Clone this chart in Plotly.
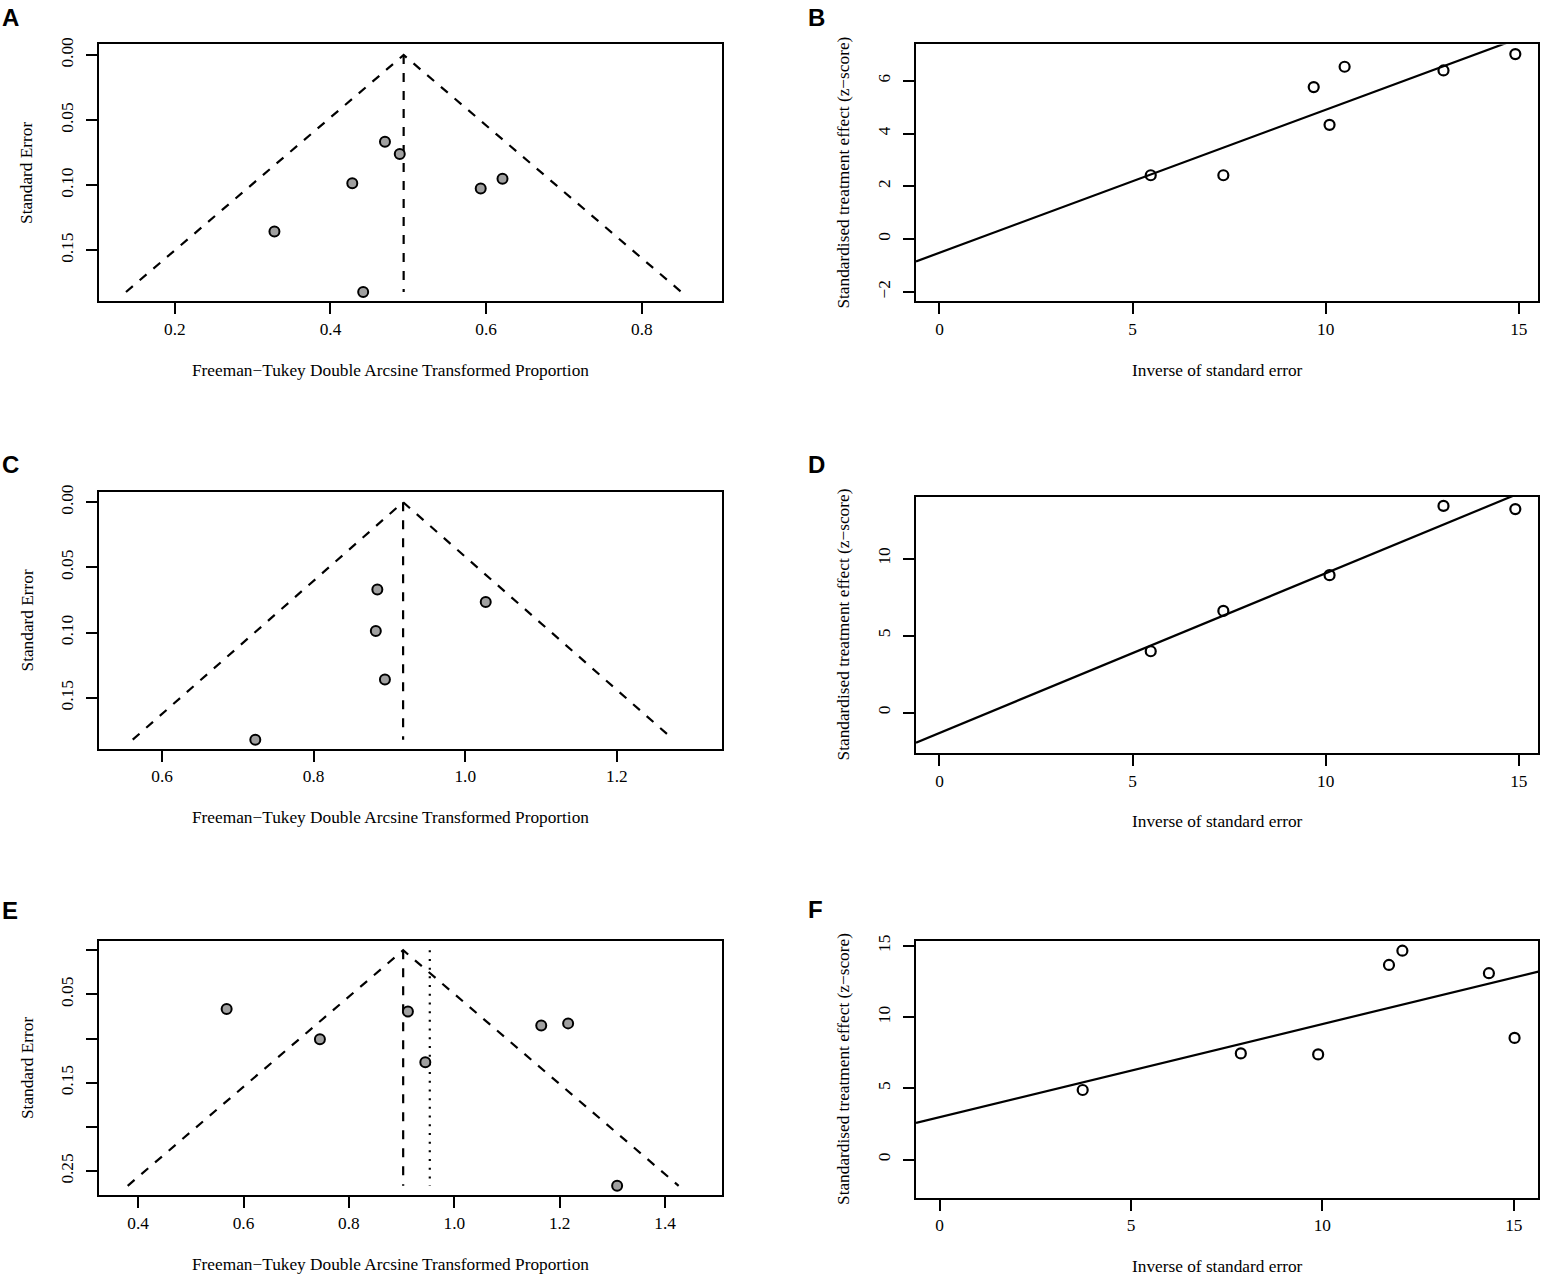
import numpy as np
import plotly.graph_objects as go
from plotly.subplots import make_subplots

# ---- data ----
# A: funnel, Freeman-Tukey transformed proportion vs standard error
a_te = [0.470, 0.489, 0.428, 0.621, 0.593, 0.328, 0.442]
a_se = [0.0667, 0.0761, 0.0985, 0.0950, 0.1026, 0.1356, 0.1820]
a_pooled = 0.494

# B: Egger radial, precision vs z
b_prec = [5.47, 7.35, 9.69, 10.10, 10.49, 13.05, 14.91]
b_z = [2.42, 2.42, 5.76, 4.33, 6.53, 6.39, 7.01]

# C: funnel
c_te = [0.884, 1.027, 0.882, 0.894, 0.723]
c_se = [0.0670, 0.0765, 0.0988, 0.1359, 0.1820]
c_pooled = 0.918

# D: radial
d_prec = [5.47, 7.35, 10.10, 13.05, 14.91]
d_z = [3.98, 6.60, 8.92, 13.42, 13.21]

# E: funnel (fixed = dashed, random = dotted)
e_te = [0.568, 0.912, 0.745, 1.165, 1.216, 0.945, 1.309]
e_se = [0.0664, 0.0694, 0.1007, 0.0851, 0.0828, 0.1269, 0.2667]
e_fixed = 0.903
e_random = 0.9535

# F: radial
f_prec = [3.74, 7.87, 9.89, 11.74, 12.09, 14.35, 15.02]
f_z = [4.88, 7.45, 7.38, 13.66, 14.66, 13.08, 8.54]

funnel_xlab = "Freeman\u2212Tukey Double Arcsine Transformed Proportion"
radial_xlab = "Inverse of standard error"
funnel_ylab = "Standard Error"
radial_ylab = "Standardised treatment effect (z\u2212score)"

W, H = 1548, 1288
FONT = "Liberation Serif"
FS = 17.3

fig = make_subplots(rows=3, cols=2)

# plot boxes in pixels: (left, right, top, bottom)
boxes = {
    1: (99, 722, 36.7, 295.3),
    2: (916, 1538.3, 36.7, 295.3),
    3: (99, 722, 487.3, 745.3),
    4: (916, 1538.3, 491.7, 749.7),
    5: (99, 722, 938.8, 1194.5),
    6: (916, 1538.3, 939, 1197),
}


def add_funnel(n, te, se, centres, dashes):
    se_max = max(se)
    row, col = (n - 1) // 2 + 1, (n - 1) % 2 + 1
    c = centres[0]
    fig.add_trace(go.Scatter(
        x=[c - 1.96 * se_max, c, c + 1.96 * se_max], y=[se_max, 0, se_max],
        mode="lines", line=dict(color="black", width=2.2, dash="9px,9px"),
        showlegend=False, hoverinfo="skip"), row=row, col=col)
    for cc, dd in zip(centres, dashes):
        fig.add_trace(go.Scatter(
            x=[cc, cc], y=[0, se_max], mode="lines",
            line=dict(color="black", width=2.2, dash=dd),
            showlegend=False, hoverinfo="skip"), row=row, col=col)
    fig.add_trace(go.Scatter(
        x=te, y=se, mode="markers",
        marker=dict(size=10, color="#a0a0a0", line=dict(color="black", width=2)),
        showlegend=False), row=row, col=col)


def add_radial(n, prec, z, xr):
    row, col = (n - 1) // 2 + 1, (n - 1) % 2 + 1
    slope, icpt = np.polyfit(prec, z, 1)
    xs = np.array(xr)
    fig.add_trace(go.Scatter(
        x=xs, y=icpt + slope * xs, mode="lines",
        line=dict(color="black", width=2.2),
        showlegend=False, hoverinfo="skip"), row=row, col=col)
    fig.add_trace(go.Scatter(
        x=prec, y=z, mode="markers",
        marker=dict(size=10, symbol="circle-open", color="black",
                    line=dict(color="black", width=2.2)),
        showlegend=False), row=row, col=col)


add_funnel(1, a_te, a_se, [a_pooled], ["9px,9px"])
add_funnel(3, c_te, c_se, [c_pooled], ["9px,9px"])
add_funnel(5, e_te, e_se, [e_fixed, e_random], ["9px,9px", "2px,6.7px"])

xr_b = [-0.608, 15.505]
xr_f = [-0.614, 15.64]
add_radial(2, b_prec, b_z, xr_b)
add_radial(4, d_prec, d_z, xr_b)
add_radial(6, f_prec, f_z, xr_f)

xranges = {1: [0.1026, 0.903], 2: xr_b, 3: [0.5168, 1.3387], 4: xr_b,
           5: [0.3258, 1.508], 6: xr_f}
yranges = {1: [0.1893, -0.0081], 2: [-2.362, 7.374], 3: [0.1889, -0.0076],
           4: [-2.63, 14.02], 5: [0.2772, -0.0105], 6: [-2.67, 15.33]}

se_ticks = [0, 0.05, 0.10, 0.15]
se_text = ["0.00", "0.05", "0.10", "0.15"]
e_ticks = [0, 0.05, 0.10, 0.15, 0.20, 0.25]
e_text = ["", "0.05", "", "0.15", "", "0.25"]
xticks = {1: ([0.2, 0.4, 0.6, 0.8], ["0.2", "0.4", "0.6", "0.8"]),
          3: ([0.6, 0.8, 1.0, 1.2], ["0.6", "0.8", "1.0", "1.2"]),
          5: ([0.4, 0.6, 0.8, 1.0, 1.2, 1.4], ["0.4", "0.6", "0.8", "1.0", "1.2", "1.4"])}
for n in (2, 4, 6):
    xticks[n] = ([0, 5, 10, 15], ["0", "5", "10", "15"])
yticks = {1: (se_ticks, se_text), 3: (se_ticks, se_text), 5: (e_ticks, e_text),
          2: ([-2, 0, 2, 4, 6], ["\u22122", "0", "2", "4", "6"]),
          4: ([0, 5, 10], ["0", "5", "10"]),
          6: ([0, 5, 10, 15], ["0", "5", "10", "15"])}

common = dict(showgrid=False, zeroline=False, showline=True, mirror=True,
              linecolor="black", linewidth=2, ticks="outside", ticklen=11,
              tickwidth=2, tickcolor="black",
              tickfont=dict(family=FONT, size=FS, color="black"))

annotations = []
letters = "ABCDEF"
for n in range(1, 7):
    l, r, t, b = boxes[n]
    sx = "" if n == 1 else str(n)
    fig.layout["xaxis" + sx].update(
        domain=[l / W, r / W], range=xranges[n],
        tickvals=xticks[n][0], ticktext=xticks[n][1],
        ticklabelstandoff=0, **common)
    fig.layout["yaxis" + sx].update(
        domain=[1 - b / H, 1 - t / H], range=yranges[n],
        tickvals=yticks[n][0], ticktext=yticks[n][1], tickangle=-90,
        ticklabelstandoff=6, **common)
    funnel = n % 2 == 1
    # x axis title
    xt_y = {1: 365, 2: 365, 3: 815, 4: 819, 5: 1264, 6: 1266}[n]
    xt_x = 390 if funnel else 1217
    annotations.append(dict(
        x=xt_x / W, y=1 - xt_y / H, xref="paper", yref="paper",
        text=funnel_xlab if funnel else radial_xlab, showarrow=False,
        xanchor="center", yanchor="middle",
        font=dict(family=FONT, size=FS, color="black")))
    # y axis title
    yt_x = 27 if funnel else 843.6
    annotations.append(dict(
        x=yt_x / W, y=1 - (t + b) / 2 / H, xref="paper", yref="paper",
        text=funnel_ylab if funnel else radial_ylab, showarrow=False,
        textangle=-90, xanchor="center", yanchor="middle",
        font=dict(family=FONT, size=FS, color="black")))
    # panel letter
    lx = 0 if funnel else 806
    ly = {1: 9.5, 2: 9.5, 3: 459.5, 4: 459.5, 5: 908.5, 6: 907.5}[n]
    annotations.append(dict(
        x=lx / W, y=1 - ly / H, xref="paper", yref="paper",
        text="<b>" + letters[n - 1] + "</b>", showarrow=False,
        xanchor="left", yanchor="middle",
        font=dict(family="Liberation Sans", size=24, color="black")))

fig.update_layout(
    width=W, height=H, margin=dict(l=0, r=0, t=0, b=0),
    paper_bgcolor="white", plot_bgcolor="white",
    annotations=annotations, showlegend=False)

fig.write_html("out.html", config={"displayModeBar": False},
               post_script="document.body.style.margin='0';")
